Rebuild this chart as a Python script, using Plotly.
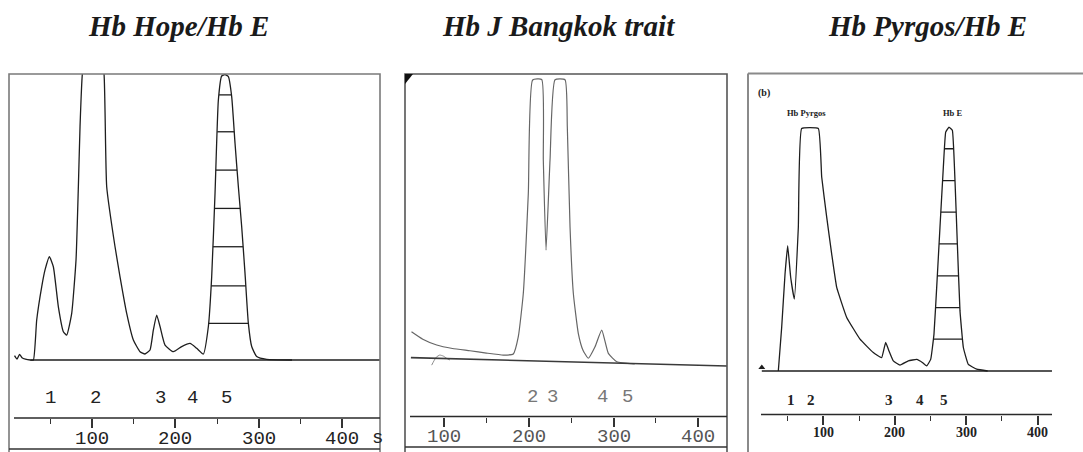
import numpy as np
import plotly.graph_objects as go

W, H = 1083, 452

# ---------------- data ----------------
# Hb Hope / Hb E : retention time (s) and detector response (% of full scale)
hope_t = [7, 10, 13, 16, 20, 26, 29.6, 33.6, 39.6, 43.6, 48.8, 53.6, 59.6, 65.6, 69.6,
          75.6, 80.8, 83.6, 85.6, 88.4, 95, 101, 108, 114.4, 117.6, 127.6, 133.6, 141.6,
          149.6, 157.6, 163.6, 169.6, 173.6, 177.6, 181.6, 187.6, 197.6, 207.6, 217.6,
          225.6, 233.6, 239.6, 243.6, 247.6, 251.6, 255.6, 259.6, 263.6, 267.6, 271.6,
          275.6, 279.6, 283.6, 287.6, 291.6, 297.6, 309.6, 340]
hope_y = [1.5, 0.3, 2.0, 0.8, 0.3, 0, 0, 14, 25.6, 31.5, 36.1, 32.6, 18.6, 9.9, 8.7,
          16.3, 35, 60.6, 81.6, 100, 112, 115, 112, 100, 60.6, 39.6, 29.1, 16.3,
          7, 2.9, 2.1, 3.5, 10.5, 15.7, 11.7, 5.2, 2.9, 4.7, 5.8,
          4.1, 2.1, 11.7, 29.1, 58.3, 90.9, 99.3, 99.8, 99.1, 92.1, 75.8,
          60.6, 46.6, 30.3, 12.8, 4.7, 1.2, 0.2, 0]
hope_peak_labels = ["1", "2", "3", "4", "5"]
hope_peak_t = [49.6, 103.6, 181.6, 220.8, 260.8]
hope_hatch = [12.8, 25.9, 39.6, 53.0, 66.4, 79.8, 92.7]

# Hb J Bangkok trait
jb_t = [61.7, 75, 91.4, 110, 130.7, 150, 170, 181.8, 187.7, 193.6, 199.5, 204.6, 215.3,
        217.2, 220.4, 225.1, 231, 242.8, 245.5, 248.7, 252.6, 258.5, 264, 270.3, 278.2,
        286.1, 293.9, 303.8, 325]
jb_y = [10.4, 7.8, 5.8, 4.6, 3.8, 3.0, 2.3, 2.7, 8.7, 23.8, 58.5, 97.9, 98.1,
        70, 38.8, 70, 98, 98, 81.7, 46.9, 23.8, 9.8, 4, 1.2, 5.2,
        11, 2.9, 0, -0.8]
jb_blip_t = [85.5, 88, 91, 95, 99, 103, 107]
jb_blip_y = [-1.2, 0.2, 1.6, 2.3, 2.0, 1.2, 0.6]
jb_base_t = [61, 434]
jb_base_y = [1.4, -1.5]
jb_peak_labels = ["2", "3", "4", "5"]
jb_peak_t = [205, 228.6, 286.6, 316]

# Hb Pyrgos / Hb E
pyr_t = [37.1, 41.8, 46.5, 50.2, 54.4, 59.5, 65.1, 69.8, 93.1, 97.8, 104.8, 111.8, 118.8,
         132.8, 151.4, 170, 181.7, 187.3, 192, 198, 207.4, 219, 230.7, 239.1, 244.7,
         250.3, 254.9, 258.7, 263.3, 268, 271.3, 275.9, 280.6, 284.3, 287.6, 291.3,
         296, 303, 314.7, 330]
pyr_y = [0, 14.6, 32.6, 42.1, 31.5, 24.2, 48.3, 81.5, 81.5, 65.2, 51.7, 39.3, 28.1,
         18, 10.7, 6.2, 4.5, 9.6, 6.7, 3.4, 2, 3.4, 3.9, 2.8, 1.7,
         3.9, 12.4, 28.1, 48.3, 68.5, 80.3, 82, 80.9, 64, 42.7, 20.2,
         7.9, 2.2, 0.6, 0]
pyr_peak_labels = ["1", "2", "3", "4", "5"]
pyr_peak_t = [54.4, 82.8, 192, 235.4, 269.5]
pyr_hatch = [10.7, 21.3, 32.0, 42.7, 53.4, 64.0, 74.7]
pyr_names = ["Hb Pyrgos", "Hb E"]
pyr_name_t = [76.8, 280.5]

titles = ["Hb Hope/Hb E", "Hb J Bangkok trait", "Hb Pyrgos/Hb E"]
title_cx = [178.5, 558, 927]
tick_vals = [100, 200, 300, 400]
tick_text = ["100", "200", "300", "400"]
minor_vals = [50, 150, 250, 350]

# ---------------- panel geometry (pixels) ----------------
panels = [
    dict(left=9, right=380, top=74, base=360, axis=418, label=438.5, x0=8.7, k=0.8333),
    dict(left=405, right=727, top=74, base=361.7, axis=416.5, label=437, x0=359.2, k=0.8477),
    dict(left=748, right=1083, top=73.5, base=371, axis=414.5, label=432, x0=751.8, k=0.7147),
]


def px(x):
    return x / W


def py(y):
    return 1 - y / H


def hatch_segments(t, y, levels):
    t = np.asarray(t, float)
    y = np.asarray(y, float)
    i = int(np.argmax(y))
    j0 = i
    while j0 > 0 and y[j0 - 1] < y[j0]:
        j0 -= 1
    j1 = i
    while j1 < len(y) - 1 and y[j1 + 1] < y[j1]:
        j1 += 1
    xs, ys = [], []
    for lv in levels:
        xl = np.interp(lv, y[j0:i + 1], t[j0:i + 1])
        xr = np.interp(lv, y[i:j1 + 1][::-1], t[i:j1 + 1][::-1])
        xs += [xl, xr, None]
        ys += [lv, lv, None]
    return xs, ys


fig = go.Figure()

line_dark = "#1e1e1e"
curve = dict(shape="spline", smoothing=0.45)

# Panel 1: Hb Hope / Hb E
fig.add_trace(go.Scatter(x=hope_t, y=hope_y, mode="lines",
                         line=dict(color=line_dark, width=1.3, **curve),
                         xaxis="x", yaxis="y"))
hx, hy = hatch_segments(hope_t[40:], hope_y[40:], hope_hatch)
fig.add_trace(go.Scatter(x=hx, y=hy, mode="lines",
                         line=dict(color=line_dark, width=1.3), xaxis="x", yaxis="y"))
fig.add_trace(go.Scatter(x=[26, 446], y=[0, 0], mode="lines",
                         line=dict(color=line_dark, width=1.6), xaxis="x", yaxis="y"))

# Panel 2: Hb J Bangkok trait
fig.add_trace(go.Scatter(x=jb_t, y=jb_y, mode="lines",
                         line=dict(color="#666", width=1.2, **curve),
                         xaxis="x2", yaxis="y2"))
fig.add_trace(go.Scatter(x=jb_blip_t, y=jb_blip_y, mode="lines",
                         line=dict(color="#8a8a8a", width=1.0, **curve),
                         xaxis="x2", yaxis="y2"))
fig.add_trace(go.Scatter(x=jb_base_t, y=jb_base_y, mode="lines",
                         line=dict(color="#3a3a3a", width=1.6), xaxis="x2", yaxis="y2"))

# Panel 3: Hb Pyrgos / Hb E
fig.add_trace(go.Scatter(x=pyr_t, y=pyr_y, mode="lines",
                         line=dict(color=line_dark, width=1.3, shape="spline",
                                   smoothing=0.3),
                         xaxis="x3", yaxis="y3"))
px3, py3 = hatch_segments(pyr_t[20:], pyr_y[20:], pyr_hatch)
fig.add_trace(go.Scatter(x=px3, y=py3, mode="lines",
                         line=dict(color=line_dark, width=1.3), xaxis="x3", yaxis="y3"))
fig.add_trace(go.Scatter(x=[14, 420], y=[0, 0], mode="lines",
                         line=dict(color=line_dark, width=1.6), xaxis="x3", yaxis="y3"))
fig.add_trace(go.Scatter(x=[14], y=[1.2], mode="markers",
                         marker=dict(symbol="triangle-up", size=6, color=line_dark),
                         xaxis="x3", yaxis="y3"))

mono = "Liberation Mono"
serif = "Liberation Serif"
tick_fonts = [dict(family=mono, size=19, color="#222"),
              dict(family=mono, size=19, color="#555"),
              dict(family=serif, size=14, color="#222", weight="bold")]

layout = dict(width=W, height=H, margin=dict(l=0, r=0, t=0, b=0),
              paper_bgcolor="white", plot_bgcolor="rgba(0,0,0,0)", showlegend=False)
for n, p in enumerate(panels):
    sfx = "" if n == 0 else str(n + 1)
    s = (p["base"] - p["top"]) / 100.0
    ymin = -(p["axis"] - p["base"]) / s
    layout["xaxis" + sfx] = dict(
        domain=[px(p["left"]), px(p["right"])],
        range=[(p["left"] - p["x0"]) / p["k"], (p["right"] - p["x0"]) / p["k"]],
        anchor="y" + sfx, showgrid=False, zeroline=False, showline=False,
        tickmode="array", tickvals=tick_vals, ticks="outside", ticklen=9,
        tickwidth=1.5, tickcolor="#333", showticklabels=False,
        minor=dict(tickmode="array", tickvals=minor_vals, ticks="outside",
                   ticklen=5, tickwidth=1.3, tickcolor="#333"),
    )
    layout["yaxis" + sfx] = dict(
        domain=[py(p["axis"]), py(p["top"])], range=[ymin, 100], visible=False,
        anchor="x" + sfx,
    )
fig.update_layout(**layout)

shapes = []
# frames
shapes.append(dict(type="rect", xref="paper", yref="paper", x0=px(9), x1=px(380),
                   y0=py(470), y1=py(74), line=dict(color="#7a7a7a", width=1.6)))
shapes.append(dict(type="rect", xref="paper", yref="paper", x0=px(405), x1=px(727),
                   y0=py(470), y1=py(74), line=dict(color="#555", width=1.6)))
shapes.append(dict(type="line", xref="paper", yref="paper", x0=px(748), x1=px(748),
                   y0=py(470), y1=py(73.5), line=dict(color="#8a8a8a", width=2)))
shapes.append(dict(type="line", xref="paper", yref="paper", x0=px(748), x1=px(1090),
                   y0=py(73.5), y1=py(73.5), line=dict(color="#8a8a8a", width=2)))
# axis lines and lower rules
for x0, x1, y in [(14, 380, 418), (410, 727, 416.5), (761, 1052, 414.5)]:
    shapes.append(dict(type="line", xref="paper", yref="paper", x0=px(x0), x1=px(x1),
                       y0=py(y), y1=py(y), line=dict(color="#2a2a2a", width=1.5)))
for x0, x1, y in [(9, 380, 449), (405, 727, 447)]:
    shapes.append(dict(type="line", xref="paper", yref="paper", x0=px(x0), x1=px(x1),
                       y0=py(y), y1=py(y), line=dict(color="#333", width=1.6)))
# corner mark of the second chart
shapes.append(dict(type="path", xref="paper", yref="paper",
                   path=f"M {px(405)},{py(74)} L {px(413)},{py(74)} L {px(405)},{py(84)} Z",
                   fillcolor="#111", line=dict(width=0)))
fig.update_layout(shapes=shapes)

ann = []
for t, cx in zip(titles, title_cx):
    ann.append(dict(text=t, xref="paper", yref="paper", x=px(cx), y=py(26),
                    xanchor="center", yanchor="middle", showarrow=False,
                    font=dict(family=serif, size=29, color="#1a1a1a",
                              weight="bold", style="italic")))
# time-axis labels
for n, p in enumerate(panels):
    xr = "x" if n == 0 else f"x{n + 1}"
    for v, txt in zip(tick_vals, tick_text):
        ann.append(dict(text=txt, xref=xr, yref="paper", x=v, y=py(p["label"]),
                        showarrow=False, xanchor="center", yanchor="middle",
                        font=tick_fonts[n]))
ann.append(dict(text="s", xref="paper", yref="paper", x=px(377), y=py(437.5),
                showarrow=False, xanchor="center", yanchor="middle",
                font=dict(family=mono, size=19, color="#222")))
# peak numbers
for lab, t in zip(hope_peak_labels, hope_peak_t):
    ann.append(dict(text=lab, xref="x", yref="paper", x=t, y=py(398), showarrow=False,
                    xanchor="center", yanchor="middle",
                    font=dict(family=mono, size=19, color="#222")))
for lab, t in zip(jb_peak_labels, jb_peak_t):
    ann.append(dict(text=lab, xref="x2", yref="paper", x=t, y=py(396.5), showarrow=False,
                    xanchor="center", yanchor="middle",
                    font=dict(family=mono, size=19, color="#777")))
for lab, t in zip(pyr_peak_labels, pyr_peak_t):
    ann.append(dict(text=lab, xref="x3", yref="paper", x=t, y=py(399.5), showarrow=False,
                    xanchor="center", yanchor="middle",
                    font=dict(family=serif, size=15, color="#222", weight="bold")))
ann.append(dict(text="(b)", xref="paper", yref="paper", x=px(764), y=py(93),
                showarrow=False, xanchor="center", yanchor="middle",
                font=dict(family=serif, size=10, color="#222", weight="bold")))
for name, t in zip(pyr_names, pyr_name_t):
    ann.append(dict(text=name, xref="x3", yref="paper", x=t, y=py(113),
                    showarrow=False, xanchor="center", yanchor="middle",
                    font=dict(family=serif, size=8.5, color="#222", weight="bold")))
fig.update_layout(annotations=ann)

fig.write_html("out.html")
